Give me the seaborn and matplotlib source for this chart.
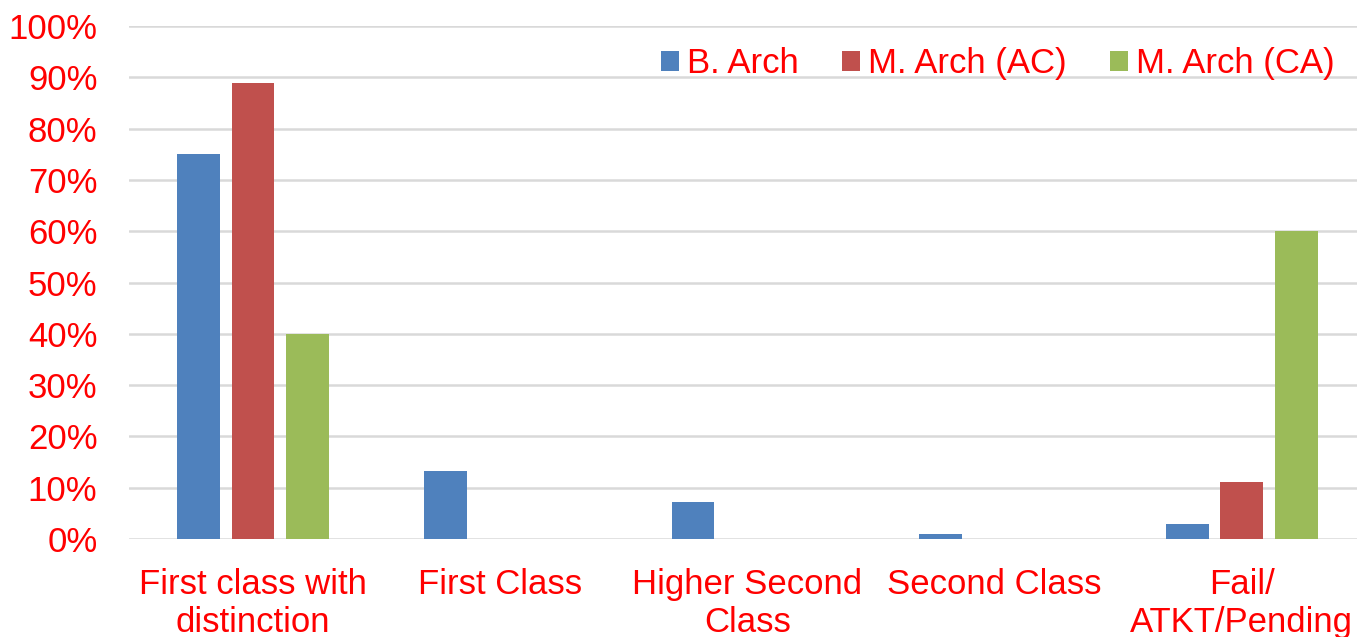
import matplotlib
matplotlib.use("Agg")
import matplotlib.pyplot as plt
import seaborn as sns
import pandas as pd
from matplotlib.ticker import FuncFormatter

categories = ["First class with\ndistinction", "First Class", "Higher Second\nClass", "Second Class", "Fail/\nATKT/Pending"]
series_names = ["B. Arch", "M. Arch (AC)", "M. Arch (CA)"]
b_arch = [75.0, 13.3, 7.2, 1.0, 3.0]
m_arch_ac = [88.9, 0.0, 0.0, 0.0, 11.1]
m_arch_ca = [40.0, 0.0, 0.0, 0.0, 60.0]
colors = ["#4F81BD", "#C0504D", "#9BBB59"]

rows = []
for name, vals in zip(series_names, [b_arch, m_arch_ac, m_arch_ca]):
    for c, v in zip(categories, vals):
        rows.append({"category": c, "series": name, "value": v})
df = pd.DataFrame(rows)

sns.set_theme(style="white")
plt.rcParams['font.family'] = ['Liberation Sans', 'DejaVu Sans']

W, H = 1357, 637
fig = plt.figure(figsize=(W / 100, H / 100), dpi=100)
ax = fig.add_axes([129.4 / W, 98 / H, 1236 / W, 513 / H])

sns.barplot(data=df, x="category", y="value", hue="series", order=categories,
            hue_order=series_names, palette=colors, width=0.66, gap=0.21,
            saturation=1, ax=ax, edgecolor="none", linewidth=0)

ax.set_ylim(0, 100)
ax.set_xlim(-0.5, 4.5)
ax.set_yticks(range(0, 101, 10))
ax.yaxis.set_major_formatter(FuncFormatter(lambda v, p: f"{int(v)}%"))
ax.yaxis.grid(True, color="#d9d9d9", linewidth=1.8)
ax.set_axisbelow(True)
for s in ax.spines.values():
    s.set_visible(False)
ax.set_xlabel("")
ax.set_ylabel("")
ax.tick_params(axis="y", labelsize=25, labelcolor="red", length=0, pad=23)
ax.tick_params(axis="x", labelsize=25, labelcolor="red", length=0, pad=21)
for t in ax.get_xticklabels():
    t.set_linespacing(1.17)

leg = ax.legend(loc="upper right", bbox_to_anchor=((1334.6 - 129.4) / 1236, 1.0 - 21 / 513),
                ncol=3, frameon=False, borderaxespad=0, borderpad=0,
                fontsize=25, handlelength=0.52, handleheight=0.52, handletextpad=0.23,
                columnspacing=1.24)
for t in leg.get_texts():
    t.set_color("red")

fig.savefig("out.png", dpi=100)
